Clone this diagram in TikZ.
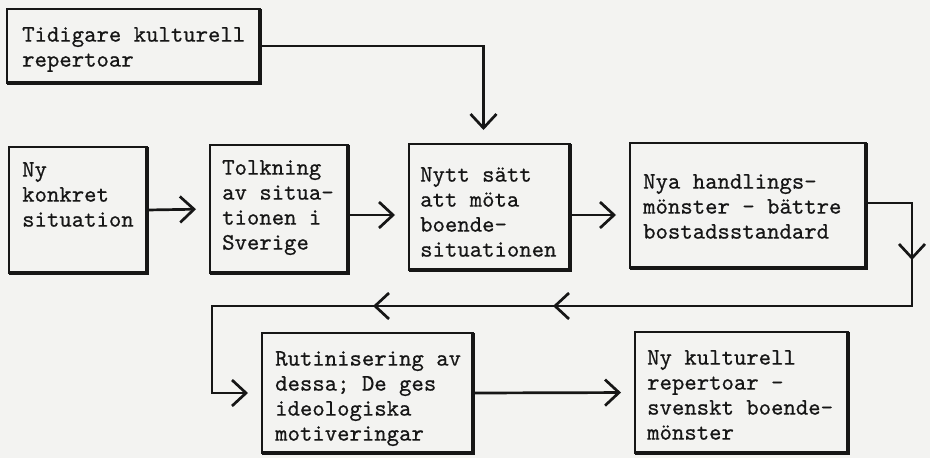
\documentclass[tikz,border=0pt]{standalone}
\usepackage{fontspec}
\newfontfamily\tw[FakeBold=0.6]{lmmono10-regular.otf}
\usetikzlibrary{arrows.meta,decorations.markings}
\definecolor{bg}{RGB}{243,243,241}
\definecolor{ink}{RGB}{22,22,22}
\tikzset{
  box/.style={draw=ink, line width=1.9pt, anchor=north west, inner sep=0pt, outer sep=0pt},
  heavyedge/.style={draw=ink, line width=3.4pt},
  txt/.style={anchor=north west, align=left, inner sep=0pt, text=ink,
    font=\tw\fontsize{23.6}{25}\selectfont},
  tipV/.tip={Straight Barb[length=14pt,width=26pt,line width=2.7pt]},
  conn/.style={draw=ink, line width=2.7pt, -tipV, shorten >=14pt},
  flowmarks/.style={postaction={decorate}, decoration={markings,
    mark=at position 103pt with {\arrow{tipV}},
    mark=at position 508pt with {\arrow{tipV}},
    mark=at position 688pt with {\arrow{tipV}}}}
}
\begin{document}
\begin{tikzpicture}[x=1pt,y=-1pt]
\fill[bg] (0,0) rectangle (930,458);
\useasboundingbox (0,0) rectangle (930,458);
% boxes
\node[box, minimum width=253pt, minimum height=74pt] (A) at (7,9) {};
\node[box, minimum width=138pt, minimum height=126pt] (B) at (9,147) {};
\node[box, minimum width=138pt, minimum height=128pt] (C) at (210,145) {};
\node[box, minimum width=161pt, minimum height=126pt] (D) at (409,144) {};
\node[box, minimum width=236pt, minimum height=125pt] (E) at (630,143) {};
\node[box, minimum width=211pt, minimum height=120pt] (F) at (262,333) {};
\node[box, minimum width=213pt, minimum height=121pt] (G) at (635,332) {};
\foreach \b in {A,B,C,D,E,F,G}{
  \draw[heavyedge] (\b.north east) -- (\b.south east) -- (\b.south west);
}
% texts
\node[txt] (At) at (22,27) {Tidigare kulturell\\repertoar};
\node[txt] (Bt) at (22,162) {Ny\\konkret\\situation};
\node[txt] (Ct) at (222,160) {Tolkning\\av situa-\\tionen i\\Sverige};
\node[txt] (Dt) at (420,167) {Nytt sätt\\att möta\\boende-\\situationen};
\node[txt] (Et) at (643,174) {Nya handlings-\\mönster - bättre\\bostadsstandard};
\node[txt] (Ft) at (275,351) {Rutinisering av\\dessa; De ges\\ideologiska\\motiveringar};
\node[txt] (Gt) at (647,350) {Ny kulturell\\repertoar -\\svenskt boende-\\mönster};
% connectors
\draw[conn] (A.east) -| ([xshift=-6pt]D.north);
\draw[conn] (B.east) -- (C.west);
\draw[conn] ([yshift=-6pt]C.east) -- ([yshift=-8pt]D.west);
\draw[conn] ([yshift=-8pt]D.east) -- ([yshift=-9.5pt]E.west);
\draw[conn, flowmarks] ([yshift=2.5pt]E.east) -- ++(46,0) -- ++(0,103) -- ++(-700,0) |- (F.west);
\draw[conn] (F.east) -- (G.west);
\end{tikzpicture}
\end{document}
